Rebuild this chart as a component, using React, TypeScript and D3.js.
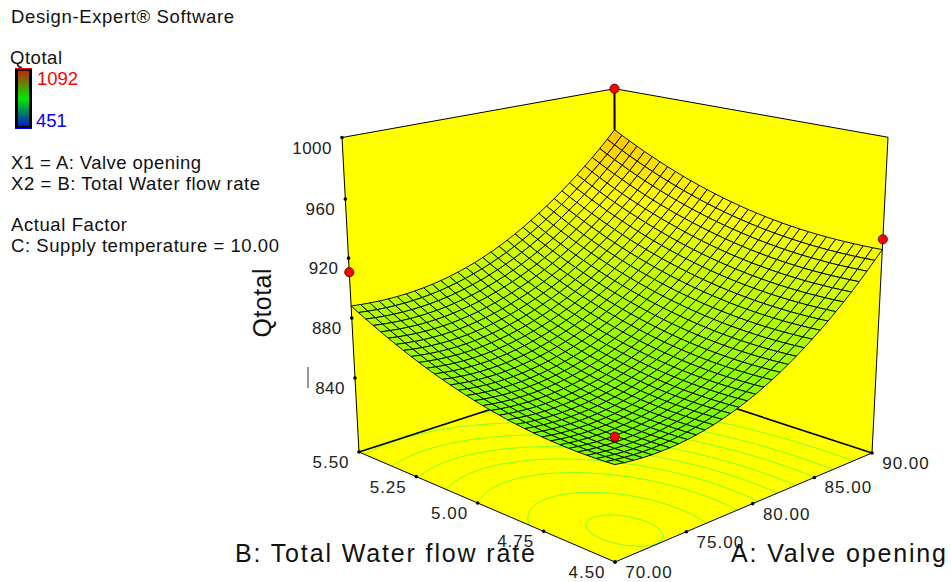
import { useMemo } from "react";
import * as d3 from "d3";

const width = 951;
const height = 582;

// Qtotal, one row per valve opening (70..90), one column per flow rate (4.5..5.5)
const qtotalRows = [
  [848.0, 848.1, 855.0, 868.5, 888.2],
  [846.7, 847.0, 853.9, 867.5, 887.9],
  [859.3, 859.6, 866.7, 880.5, 900.9],
  [885.7, 886.2, 893.4, 907.4, 928.4],
  [926.0, 926.6, 933.9, 948.5, 970.0],
];

// red design points at the four corners: [A, B, Qtotal]
const designPoints = [
  [90, 5.5, 1000],
  [70, 5.5, 910.7],
  [90, 4.5, 933],
  [70, 4.5, 864.4],
];

const contourLevels = [845.5, 849, 855, 861, 868, 876, 886, 897, 911];
const aTicks = [70, 75, 80, 85, 90];
const bTicks = [4.5, 4.75, 5, 5.25, 5.5];
const zTicks = [840, 880, 920, 960, 1000];
const legendLines = [
  { text: "Design-Expert® Software", x: 11, y: 23, w: 223 },
  { text: "Qtotal", x: 10, y: 64, w: 52 },
  { text: "X1 = A: Valve opening", x: 11, y: 169, w: 190 },
  { text: "X2 = B: Total Water flow rate", x: 11, y: 190, w: 249 },
  { text: "Actual Factor", x: 11, y: 231, w: 116 },
  { text: "C: Supply temperature  = 10.00", x: 11, y: 252, w: 268 },
];

const MESH = 32;
const FONT = "'Liberation Sans', Arial, sans-serif";

const uScale = d3.scaleLinear().domain([70, 90]).range([0, 1]);
const vScale = d3.scaleLinear().domain([4.5, 5.5]).range([0, 1]);
// the printed z ticks are evenly spaced on the page, so the scale is read per tick
const wScale = d3
  .scaleLinear()
  .domain([790, 840, 880, 920, 960, 1000])
  .range([0, 0.2465, 0.441, 0.631, 0.8137, 1]);

const color = d3
  .scaleLinear<string>()
  .domain([451, 611, 771, 931, 1092])
  .range(["#0000ff", "#00ffff", "#00ff00", "#ffff00", "#ff0000"]);

// box corners on the page, the projection is solved from them
const pFront = [615, 562];
const pRight = [872, 453];
const pLeft = [359, 452];
const pBack = [615, 369];
const pTopLeft = [342, 139];
const pTopRight = [888, 140];
const pTopBack = [615, 85];

const makeProjection = () => {
  const [ax, ay] = [pRight[0] - pBack[0], pRight[1] - pBack[1]];
  const [bx, by] = [pLeft[0] - pBack[0], pLeft[1] - pBack[1]];
  const rx = pFront[0] + pBack[0] - pRight[0] - pLeft[0];
  const ry = pFront[1] + pBack[1] - pRight[1] - pLeft[1];
  const det = ax * by - bx * ay;
  const g = (rx * by - bx * ry) / det;
  const h = (ax * ry - rx * ay) / det;
  const g1 = 1 + g;
  const h1 = 1 + h;
  const k =
    (pLeft[0] * h1 - pRight[0] * g1 - pTopLeft[0] * h1 + pTopRight[0] * g1) /
    (pTopLeft[0] - pTopRight[0]);
  const cx = pTopLeft[0] * (h1 + k) - pLeft[0] * h1;
  const cy = d3.mean([
    pTopLeft[1] * (h1 + k) - pLeft[1] * h1,
    pTopRight[1] * (g1 + k) - pRight[1] * g1,
    pTopBack[1] * (g1 + h + k) - pBack[1] * (g1 + h),
  ])!;
  const a = [pRight[0] * g1 - pFront[0], pRight[1] * g1 - pFront[1]];
  const b = [pLeft[0] * h1 - pFront[0], pLeft[1] * h1 - pFront[1]];
  return (u: number, v: number, w: number): [number, number] => {
    const d = 1 + g * u + h * v + k * w;
    return [
      (pFront[0] + a[0] * u + b[0] * v + cx * w) / d,
      (pFront[1] + a[1] * u + b[1] * v + cy * w) / d,
    ];
  };
};

const project = makeProjection();

// refine the read grid to the mesh density (polynomial through the 5 read nodes)
const lagrange = (ys: number[], t: number) => {
  const nodes = [0, 0.25, 0.5, 0.75, 1];
  return d3.sum(ys, (y, i) => {
    let l = y;
    nodes.forEach((n, j) => {
      if (j !== i) l *= (t - n) / (nodes[i] - n);
    });
    return l;
  });
};

const qAt = (u: number, v: number) =>
  lagrange(
    qtotalRows.map((row) => lagrange(row, v)),
    u
  );

const toPath = d3.line();

const floorContours = () => {
  const n = 121;
  const values: number[] = [];
  for (let j = 0; j < n; j++) {
    for (let i = 0; i < n; i++) values.push(qAt(i / (n - 1), j / (n - 1)));
  }
  const paths: string[] = [];
  d3.contours()
    .size([n, n])
    .thresholds(contourLevels)(values)
    .forEach((c) => {
      c.coordinates.forEach((poly) =>
        poly.forEach((ring) => {
          // the rings also run along the grid border, keep only the real line
          let run: [number, number][] = [];
          const flush = () => {
            if (run.length > 1) paths.push(toPath(run)!);
            run = [];
          };
          ring.forEach(([x, y]) => {
            if (x <= 0 || y <= 0 || x >= n || y >= n) {
              flush();
            } else {
              run.push(project((x - 0.5) / (n - 1), (y - 0.5) / (n - 1), 0));
            }
          });
          flush();
        })
      );
    });
  return paths;
};

const polygon = (pts: [number, number][]) => toPath(pts)! + "Z";

export default function App() {
  const cells = useMemo(() => {
    const out: { d: string; fill: string }[] = [];
    // painted from the far corner to the near one
    for (let i = MESH - 1; i >= 0; i--) {
      for (let j = MESH - 1; j >= 0; j--) {
        const p = (a: number, b: number): [number, number] => {
          const u = a / MESH;
          const v = b / MESH;
          return project(u, v, wScale(qAt(u, v)));
        };
        out.push({
          d: polygon([p(i, j), p(i + 1, j), p(i + 1, j + 1), p(i, j + 1)]),
          fill: color(qAt((i + 0.5) / MESH, (j + 0.5) / MESH)),
        });
      }
    }
    return out;
  }, []);
  const contours = useMemo(floorContours, []);

  const tickSize = 1.8;
  const surfaceBack = project(1, 1, wScale(qAt(1, 1)));

  return (
    <svg
      width={width}
      height={height}
      style={{ position: "absolute", left: 0, top: 0, display: "block", background: "#fff" }}
      fontFamily={FONT}
    >
      <defs>
        <linearGradient id="legendRamp" x1="0" x2="0" y1="0" y2="1">
          <stop offset="0" stopColor="#c02a00" />
          <stop offset="0.5" stopColor="#00e800" />
          <stop offset="1" stopColor="#0020c8" />
        </linearGradient>
      </defs>

      {/* left text block */}
      {legendLines.map((l) => (
        <text key={l.text} x={l.x} y={l.y} fontSize={18.5} fill="#111" textLength={l.w} lengthAdjust="spacing">
          {l.text}
        </text>
      ))}
      <rect x={15} y={68} width={17} height={61} fill="#000" />
      <rect x={18} y={71} width={11} height={55} fill="url(#legendRamp)" />
      <line x1={15} x2={32} y1={68.5} y2={68.5} stroke="#f00" />
      <line x1={15} x2={32} y1={128.5} y2={128.5} stroke="#00f" />
      <text x={37} y={85} fontSize={18.5} fill="#f00">1092</text>
      <text x={36} y={127} fontSize={18.5} fill="#00f">451</text>

      {/* walls and floor */}
      <path d={polygon([project(0, 1, 0), project(1, 1, 0), project(1, 1, 1), project(0, 1, 1)])} fill="#ffff00" />
      <path d={polygon([project(1, 0, 0), project(1, 1, 0), project(1, 1, 1), project(1, 0, 1)])} fill="#ffff00" />
      <path d={polygon([project(0, 0, 0), project(1, 0, 0), project(1, 1, 0), project(0, 1, 0)])} fill="#ffff00" />

      {contours.map((d, i) => (
        <path key={i} d={d} fill="none" stroke="#7dff2a" strokeWidth={1} />
      ))}

      <g fill="none" stroke="#000">
        <path d={toPath([project(0, 1, 1), project(1, 1, 1), project(1, 0, 1)])!} strokeWidth={1} />
        <path d={toPath([project(0, 1, 1), project(0, 1, 0), project(0, 0, 0), project(1, 0, 0), project(1, 0, 1)])!} strokeWidth={1} />
        <path d={toPath([project(0, 1, 0), project(1, 1, 0), project(1, 0, 0)])!} strokeWidth={1.6} />
      </g>

      {/* axis ticks and labels */}
      {zTicks.map((t) => {
        const [x, y] = project(0, 1, wScale(t));
        return (
          <g key={t}>
            <circle cx={x} cy={y} r={tickSize} fill="#000" />
            <text x={x - 10} y={y + 16} textAnchor="end" fontSize={17} fill="#222" letterSpacing={0.5}>
              {t}
            </text>
          </g>
        );
      })}
      {bTicks.map((t) => {
        const [x, y] = project(0, vScale(t), 0);
        return (
          <g key={t}>
            <circle cx={x} cy={y} r={tickSize} fill="#000" />
            <text x={x - 28} y={y + 16} textAnchor="middle" fontSize={17} fill="#222" letterSpacing={1}>
              {d3.format(".2f")(t)}
            </text>
          </g>
        );
      })}
      {aTicks.map((t) => {
        const [x, y] = project(uScale(t), 0, 0);
        return (
          <g key={t}>
            <circle cx={x} cy={y} r={tickSize} fill="#000" />
            <text x={x + 34} y={y + 16} textAnchor="middle" fontSize={17} fill="#222" letterSpacing={1}>
              {d3.format(".2f")(t)}
            </text>
          </g>
        );
      })}

      {/* surface */}
      <g stroke="#0c0c00" strokeWidth={1} strokeLinejoin="round">
        {cells.map((c, i) => (
          <path key={i} d={c.d} fill={c.fill} />
        ))}
      </g>

      {/* back design point stands on its own line above the surface */}
      <path d={toPath([surfaceBack, project(1, 1, 1)])!} stroke="#000" strokeWidth={2} fill="none" />
      {designPoints.map(([a, b, q]) => {
        const [x, y] = project(uScale(a), vScale(b), wScale(q));
        return <circle key={`${a}-${b}`} cx={x} cy={y} r={4.6} fill="#f00" stroke="#400" strokeWidth={0.8} />;
      })}

      {/* axis titles */}
      <text transform="translate(271,303) rotate(-90)" textAnchor="middle" fontSize={25} fill="#111" textLength={69} lengthAdjust="spacing">
        Qtotal
      </text>
      <line x1={308} x2={308} y1={367} y2={388} stroke="#333" />
      <text x={235} y={562} fontSize={25} fill="#111" textLength={300} lengthAdjust="spacing">
        B: Total Water flow  rate
      </text>
      <text x={731} y={562} fontSize={25} fill="#111" textLength={215} lengthAdjust="spacing">
        A: Valve opening
      </text>
    </svg>
  );
}
